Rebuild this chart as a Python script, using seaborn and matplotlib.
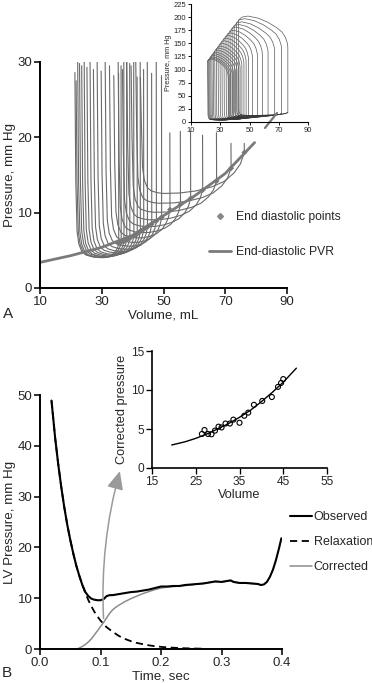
import numpy as np
import matplotlib
matplotlib.use("Agg")
import matplotlib.pyplot as plt
import seaborn as sns
from matplotlib.lines import Line2D

sns.set_style("ticks")
plt.rcParams['font.family'] = ['Liberation Sans', 'DejaVu Sans']

# ---------------- panel A data ----------------
# end-systolic volume, end-diastolic volume of each loop (caval occlusion run)
v_es = [21.3, 21.7, 22.2, 22.8, 23.5, 24.3, 25.2, 26.2, 27.3, 28.5,
        29.8, 31.1, 32.5, 33.9, 35.3, 36.7, 38.1, 39.5, 41.0, 42.5]
v_ed = [35.5, 36.3, 37.2, 38.1, 39.1, 40.4, 41.5, 42.5, 43.6, 44.8,
        46.2, 47.7, 49.4, 52.1, 55.5, 58.8, 62.7, 67.2, 71.9, 76.2]
p_min = [4.0, 4.0, 4.0, 4.1, 4.1, 4.2, 4.3, 4.4, 4.6, 4.8,
         5.1, 5.5, 6.0, 6.6, 7.3, 8.1, 9.0, 10.0, 11.2, 12.5]
p_ed = [5.9, 6.1, 6.2, 6.4, 6.6, 6.9, 7.2, 7.5, 7.8, 8.1,
        8.5, 8.9, 9.4, 10.4, 11.1, 11.9, 13.0, 14.2, 15.9, 18.0]
relax_top = [28.6, 27.5, 30.5, 29.8, 29.5, 30.5, 29.3, 30.5, 29.0, 30.5,
             28.8, 30.5, 29.5, 28.2, 30.5, 29.0, 30.5, 29.5, 30.5, 28.0]
contr_top = [28.5, 29.5, 30.5, 30.5, 29.8, 30.5, 28.0, 30.5, 29.0, 30.5,
             28.5, 30.5, 28.2, 20.6, 20.8, 20.8, 20.3, 20.6, 19.2, 19.2]
# inset: end-systolic and peak pressures
p_es = [116, 117.5, 119.3, 121.5, 124, 127, 130.3, 134, 138, 142.5,
        147.3, 152, 157.2, 162.4, 167.5, 172.7, 177.9, 183, 188.6, 194.2]
p_peak = [120, 122, 124, 127, 130, 133, 137, 141, 145, 150,
          155, 160, 165, 170, 175, 181, 186, 191, 197, 202]
# end-diastolic PVR
edpvr_v = [10, 20, 30, 40, 50, 60, 70, 79.5]
edpvr_p = [3.4, 4.3, 5.4, 7.0, 9.6, 12.2, 15.2, 19.3]

# loop shape template
corner_dv = [0.7, 1.3, 2.3, 3.5, 5.5, 7.5]
corner_ex = [3.5, 1.8, 0.8, 0.4, 0.15, 0.05]
fill_f = [0, 0.2, 0.4, 0.6, 0.75, 0.87, 0.95, 1.0]
fill_g = [0, 0.02, 0.07, 0.17, 0.3, 0.5, 0.72, 1.0]
arc_dv = [0, 0.006, 0.05, 0.12, 0.225, 0.4, 0.6, 0.81, 0.93]
arc_pf = [0.70, 0.74, 0.80, 0.85, 0.89, 0.94, 0.98, 1.0, 0.99]

# ---------------- panel B data ----------------
relax_t = [0.019, 0.025, 0.03, 0.035, 0.04, 0.045, 0.05, 0.055, 0.06, 0.065,
           0.07, 0.075, 0.08, 0.085, 0.09, 0.095, 0.1, 0.11, 0.12, 0.13,
           0.14, 0.15, 0.16, 0.17, 0.18, 0.19, 0.2, 0.21, 0.22, 0.24, 0.26, 0.27]
relax_p = [48.9, 41.6, 36.5, 32.0, 28.0, 24.5, 21.5, 18.8, 16.4, 14.4,
           12.6, 11.0, 9.6, 8.4, 7.3, 6.4, 5.6, 4.3, 3.4, 2.6,
           2.0, 1.55, 1.2, 0.95, 0.72, 0.55, 0.42, 0.32, 0.25, 0.14, 0.08, 0.06]
obs_t = [0.019, 0.025, 0.03, 0.035, 0.04, 0.045, 0.05, 0.055, 0.06, 0.065,
         0.07, 0.075, 0.08, 0.085, 0.09, 0.095, 0.1, 0.105, 0.11, 0.115,
         0.12, 0.13, 0.14, 0.15, 0.16, 0.17, 0.18, 0.19, 0.2, 0.21,
         0.22, 0.23, 0.24, 0.25, 0.26, 0.27, 0.28, 0.29, 0.3, 0.31,
         0.315, 0.32, 0.33, 0.34, 0.35, 0.36, 0.365, 0.37, 0.375, 0.38,
         0.385, 0.39, 0.395, 0.399]
obs_p = [48.9, 41.6, 36.5, 32.0, 28.0, 24.5, 21.5, 18.8, 16.4, 14.4,
         12.6, 11.2, 10.4, 9.9, 9.7, 9.6, 9.6, 9.8, 10.4, 10.6,
         10.6, 10.8, 11.0, 11.2, 11.3, 11.5, 11.7, 12.0, 12.3, 12.3,
         12.4, 12.4, 12.6, 12.7, 12.8, 12.9, 13.1, 13.3, 13.2, 13.4,
         13.5, 13.2, 13.0, 13.0, 12.9, 12.8, 12.6, 12.7, 13.2, 14.2,
         15.6, 17.5, 19.8, 21.8]
corr_t = [0.061, 0.065, 0.07, 0.075, 0.08, 0.085, 0.09, 0.095, 0.1, 0.105,
          0.11, 0.115, 0.12, 0.125, 0.13, 0.14, 0.15, 0.16, 0.17, 0.18,
          0.19, 0.2, 0.21, 0.22, 0.23, 0.24, 0.25, 0.26, 0.27, 0.28,
          0.29, 0.3, 0.31, 0.315, 0.32, 0.33, 0.34, 0.35, 0.36, 0.365]
corr_p = [0.0, 0.2, 0.5, 0.9, 1.4, 2.0, 2.8, 3.6, 4.4, 5.2,
          6.1, 7.0, 7.7, 8.2, 8.6, 9.3, 9.9, 10.4, 10.9, 11.3,
          11.7, 12.0, 12.2, 12.3, 12.4, 12.5, 12.6, 12.8, 12.9, 13.1,
          13.3, 13.2, 13.4, 13.5, 13.2, 13.0, 13.0, 12.9, 12.8, 12.6]
pts_v = [26.4, 27.0, 27.8, 28.6, 29.4, 30.2, 30.9, 31.8, 32.8, 33.6,
         35.0, 36.1, 37.0, 38.3, 40.2, 42.4, 43.8, 44.5, 45.0]
pts_p = [4.36, 4.87, 4.36, 4.32, 4.79, 5.3, 5.2, 5.7, 5.7, 6.2,
         5.8, 6.7, 7.1, 8.1, 8.6, 9.1, 10.4, 10.9, 11.4]
fit_v = [19.5, 22.5, 25, 27.5, 30, 32.5, 35, 37.5, 40, 42.5, 45, 46.5, 48]
fit_p = [2.95, 3.35, 3.8, 4.35, 5.0, 5.7, 6.5, 7.4, 8.5, 9.7, 11.0, 11.9, 12.8]


def diastole(i, top):
    vs, vd, pm, pe = v_es[i], v_ed[i], p_min[i], p_ed[i]
    v = [vs, vs + 0.3] + [vs + d for d in corner_dv]
    p = [top, pm + 10] + [pm + e for e in corner_ex]
    v0 = vs + corner_dv[-1]
    v += [v0 + f * (vd - v0) for f in fill_f[1:]]
    p += [pm + g * (pe - pm) for g in fill_g[1:]]
    return v, p


def box(l, t, r, b):
    return [l / 372, 1 - b / 683, (r - l) / 372, (b - t) / 683]


def style(ax, lw=1.4, size=9.5, length=4):
    sns.despine(ax=ax)
    for s in ['left', 'bottom']:
        ax.spines[s].set_linewidth(lw)
        ax.spines[s].set_color('black')
    ax.tick_params(width=lw * 0.8, length=length, labelsize=size, pad=1.5, color='black')


fig = plt.figure(figsize=(3.72, 6.83), dpi=100)

# ---------------- A main ----------------
axA = fig.add_axes(box(40, 62, 287, 288))
gray = '#6a6a6a'
for i in range(len(v_es)):
    v, p = diastole(i, relax_top[i])
    v += [v_ed[i] - 0.05]
    p += [contr_top[i]]
    sns.lineplot(x=v, y=p, sort=False, estimator=None, ax=axA, color=gray, lw=0.8)
sns.lineplot(x=edpvr_v, y=edpvr_p, ax=axA, color='#7a7a7a', lw=2.0)
sns.scatterplot(x=v_ed, y=p_ed, ax=axA, marker='D', s=9, color='#777777', edgecolor='none', zorder=5)
axA.set_xlim(10, 90)
axA.set_ylim(0, 30)
axA.set_xticks([10, 30, 50, 70, 90])
axA.set_yticks([0, 10, 20, 30])
axA.set_xlabel("Volume, mL", fontsize=9.6, labelpad=1)
axA.set_ylabel("Pressure, mm Hg", fontsize=9.6, labelpad=1)
style(axA)
hA = [Line2D([], [], marker='D', ls='none', color='#888888', markersize=3),
      Line2D([], [], color='#7a7a7a', lw=2)]
fig.legend(hA, ["End diastolic points", "End-diastolic PVR"], loc='upper left',
           bbox_to_anchor=(209 / 372, 1 - 211 / 683), frameon=False, fontsize=8.7,
           handlelength=1.8, handletextpad=0.4, labelspacing=1.9, borderpad=0, borderaxespad=0)
fig.text(8 / 372, 1 - 314 / 683, "A", fontsize=11, va='center', ha='center')

# ---------------- A inset ----------------
axI = fig.add_axes(box(191, 4, 308, 122))
for i in range(len(v_es)):
    v, p = diastole(i, p_es[i])
    s = v_ed[i] - v_es[i]
    v2 = [v_ed[i] - d * s for d in arc_dv] + [v_es[i]]
    p2 = [f * p_peak[i] for f in arc_pf] + [p_es[i]]
    sns.lineplot(x=v + v2, y=p + p2, sort=False, estimator=None, ax=axI, color='#666666', lw=0.55)
    sns.lineplot(x=v[3:], y=p[3:], sort=False, estimator=None, ax=axI, color='#222222', lw=0.5)
axI.plot([60.6, 68.8], [-11.4, 17.2], color='#777777', lw=1.6, clip_on=False)
axI.set_xlim(10, 90)
axI.set_ylim(0, 225)
axI.set_xticks([10, 30, 50, 70, 90])
axI.set_yticks(range(0, 226, 25))
axI.set_ylabel("Pressure, mm Hg", fontsize=5.2, labelpad=1)
style(axI, lw=0.8, size=5.5, length=2)

# ---------------- B main ----------------
axB = fig.add_axes(box(40, 395, 282, 649))
sns.lineplot(x=corr_t, y=corr_p, ax=axB, color='#8c8c8c', lw=1.1, label="Corrected")
sns.lineplot(x=relax_t, y=relax_p, ax=axB, color='black', lw=1.3, ls=(0, (4, 2.5)), label="Relaxation")
sns.lineplot(x=obs_t, y=obs_p, ax=axB, color='black', lw=1.5, label="Observed")
axB.set_xlim(0, 0.4)
axB.set_ylim(0, 50)
axB.set_xticks([0.0, 0.1, 0.2, 0.3, 0.4])
axB.set_xticklabels(["0.0", "0.1", "0.2", "0.3", "0.4"])
axB.set_yticks([0, 10, 20, 30, 40, 50])
axB.set_xlabel("Time, sec", fontsize=9.6, labelpad=1)
axB.set_ylabel("LV Pressure, mm Hg", fontsize=9.6, labelpad=1)
style(axB)
h, l = axB.get_legend_handles_labels()
axB.get_legend().remove()
fig.legend(h[::-1], l[::-1], loc='upper left', bbox_to_anchor=(290 / 372, 1 - 511 / 683),
           frameon=False, fontsize=9, handlelength=1.75, handletextpad=0.15,
           labelspacing=1.04, borderpad=0, borderaxespad=0)
axB.annotate("", xy=(0.132, 35), xytext=(0.105, 6),
             arrowprops=dict(arrowstyle='-|>,head_length=1.1,head_width=0.5', color='#9a9a9a',
                             lw=1.1, connectionstyle='arc3,rad=-0.08', shrinkA=0, shrinkB=0))
fig.text(7 / 372, 1 - 673 / 683, "B", fontsize=11, va='center', ha='center')

# ---------------- B inset ----------------
axJ = fig.add_axes(box(152, 351, 327, 468))
sns.lineplot(x=fit_v, y=fit_p, ax=axJ, color='black', lw=1.0)
sns.scatterplot(x=pts_v, y=pts_p, ax=axJ, marker='o', s=13, facecolor='none',
                edgecolor='black', linewidth=0.8, zorder=5)
axJ.set_xlim(15, 55)
axJ.set_ylim(0, 15)
axJ.set_xticks([15, 25, 35, 45, 55])
axJ.set_yticks([0, 5, 10, 15])
axJ.set_xlabel("Volume", fontsize=9.2, labelpad=1)
axJ.set_ylabel("Corrected pressure", fontsize=9.2, labelpad=2)
style(axJ, lw=1.2, size=8.6)

fig.savefig("out.png", dpi=100)
